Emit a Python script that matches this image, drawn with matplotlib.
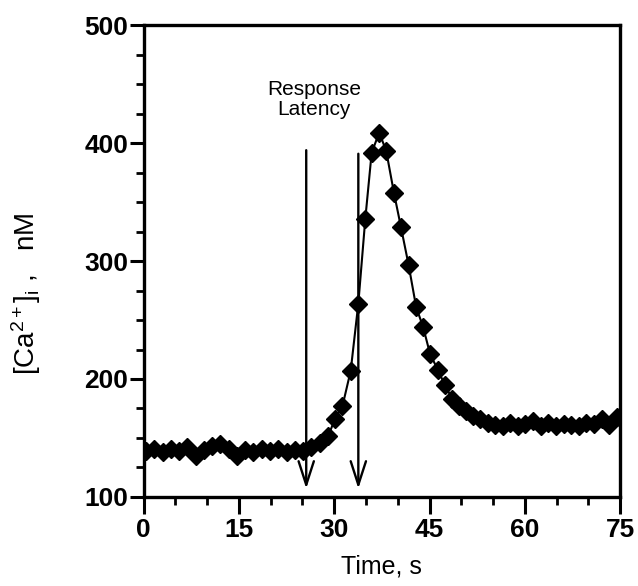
import matplotlib
matplotlib.use("Agg")
import matplotlib.pyplot as plt
from matplotlib.ticker import MultipleLocator

plt.rcParams["font.family"] = ["Liberation Sans", "DejaVu Sans"]
plt.rcParams["mathtext.fontset"] = "custom"
plt.rcParams["mathtext.rm"] = "Liberation Sans"
plt.rcParams["mathtext.it"] = "Liberation Sans"

# intracellular calcium trace
time_s = [0.4, 1.7, 3.0, 4.3, 5.6, 6.9, 8.2, 9.5, 10.8, 12.1,
          13.4, 14.7, 16.0, 17.3, 18.6, 19.9, 21.2, 22.5, 23.8, 25.1,
          26.4, 27.8, 29.1, 30.1, 31.3, 32.6, 33.8, 34.9, 35.9, 37.1,
          38.2, 39.4, 40.5, 41.7, 42.9, 44.0, 45.1, 46.3, 47.4, 48.6,
          49.7, 50.8, 51.9, 53.0, 54.2, 55.3, 56.5, 57.7, 58.9, 60.1,
          61.3, 62.5, 63.7, 64.9, 66.1, 67.3, 68.5, 69.7, 70.9, 72.1,
          73.3, 74.5]
ca_nM = [139, 141, 138, 141, 139, 142, 135, 140, 143, 145,
         141, 135, 140, 138, 141, 139, 141, 138, 140, 139,
         142, 146, 152, 166, 177, 207, 264, 336, 392, 409,
         393, 358, 329, 297, 261, 244, 221, 208, 195, 183,
         177, 173, 169, 166, 163, 161, 160, 163, 160, 162,
         164, 160, 163, 160, 162, 161, 160, 163, 162, 166,
         161, 168]

arrow_x = [25.6, 33.8]
arrow_top = [394, 391]
arrow_tip = 107

fig = plt.figure(figsize=(6.38, 5.86), dpi=100)
ax = fig.add_axes([0.225, 0.152, 0.747, 0.805])

ax.plot(time_s, ca_nM, color="black", lw=1.5, marker="D", ms=9.5,
        markeredgecolor="black", markerfacecolor="black")

for x, top in zip(arrow_x, arrow_top):
    ax.annotate("", xy=(x, arrow_tip), xytext=(x, top),
                arrowprops=dict(arrowstyle="->,head_length=1.7,head_width=0.55",
                                color="black", lw=1.7, shrinkA=0, shrinkB=0))

ax.text(26.8, 437, "Response\nLatency", ha="center", va="center",
        fontsize=15, linespacing=1.05)

ax.set_xlim(0, 75)
ax.set_ylim(100, 500)
ax.xaxis.set_major_locator(MultipleLocator(15))
ax.xaxis.set_minor_locator(MultipleLocator(5))
ax.yaxis.set_major_locator(MultipleLocator(100))
ax.yaxis.set_minor_locator(MultipleLocator(25))
ax.tick_params(which="major", direction="out", length=10, width=2.2,
               labelsize=19)
ax.tick_params(axis="y", which="major", pad=1)
ax.tick_params(axis="x", which="major", pad=3, length=12)
ax.tick_params(which="minor", direction="out", length=6, width=2)
for lab in ax.get_xticklabels() + ax.get_yticklabels():
    lab.set_fontweight("bold")
for sp in ax.spines.values():
    sp.set_linewidth(2.4)

ax.set_xlabel("Time, s", fontsize=18, labelpad=9)
ax.set_ylabel(r"[Ca$^{2+}$]$_{\rm i}$ ,   nM", fontsize=20)
ax.yaxis.set_label_coords(-0.21, 0.43)

fig.savefig("out.png", dpi=100)
